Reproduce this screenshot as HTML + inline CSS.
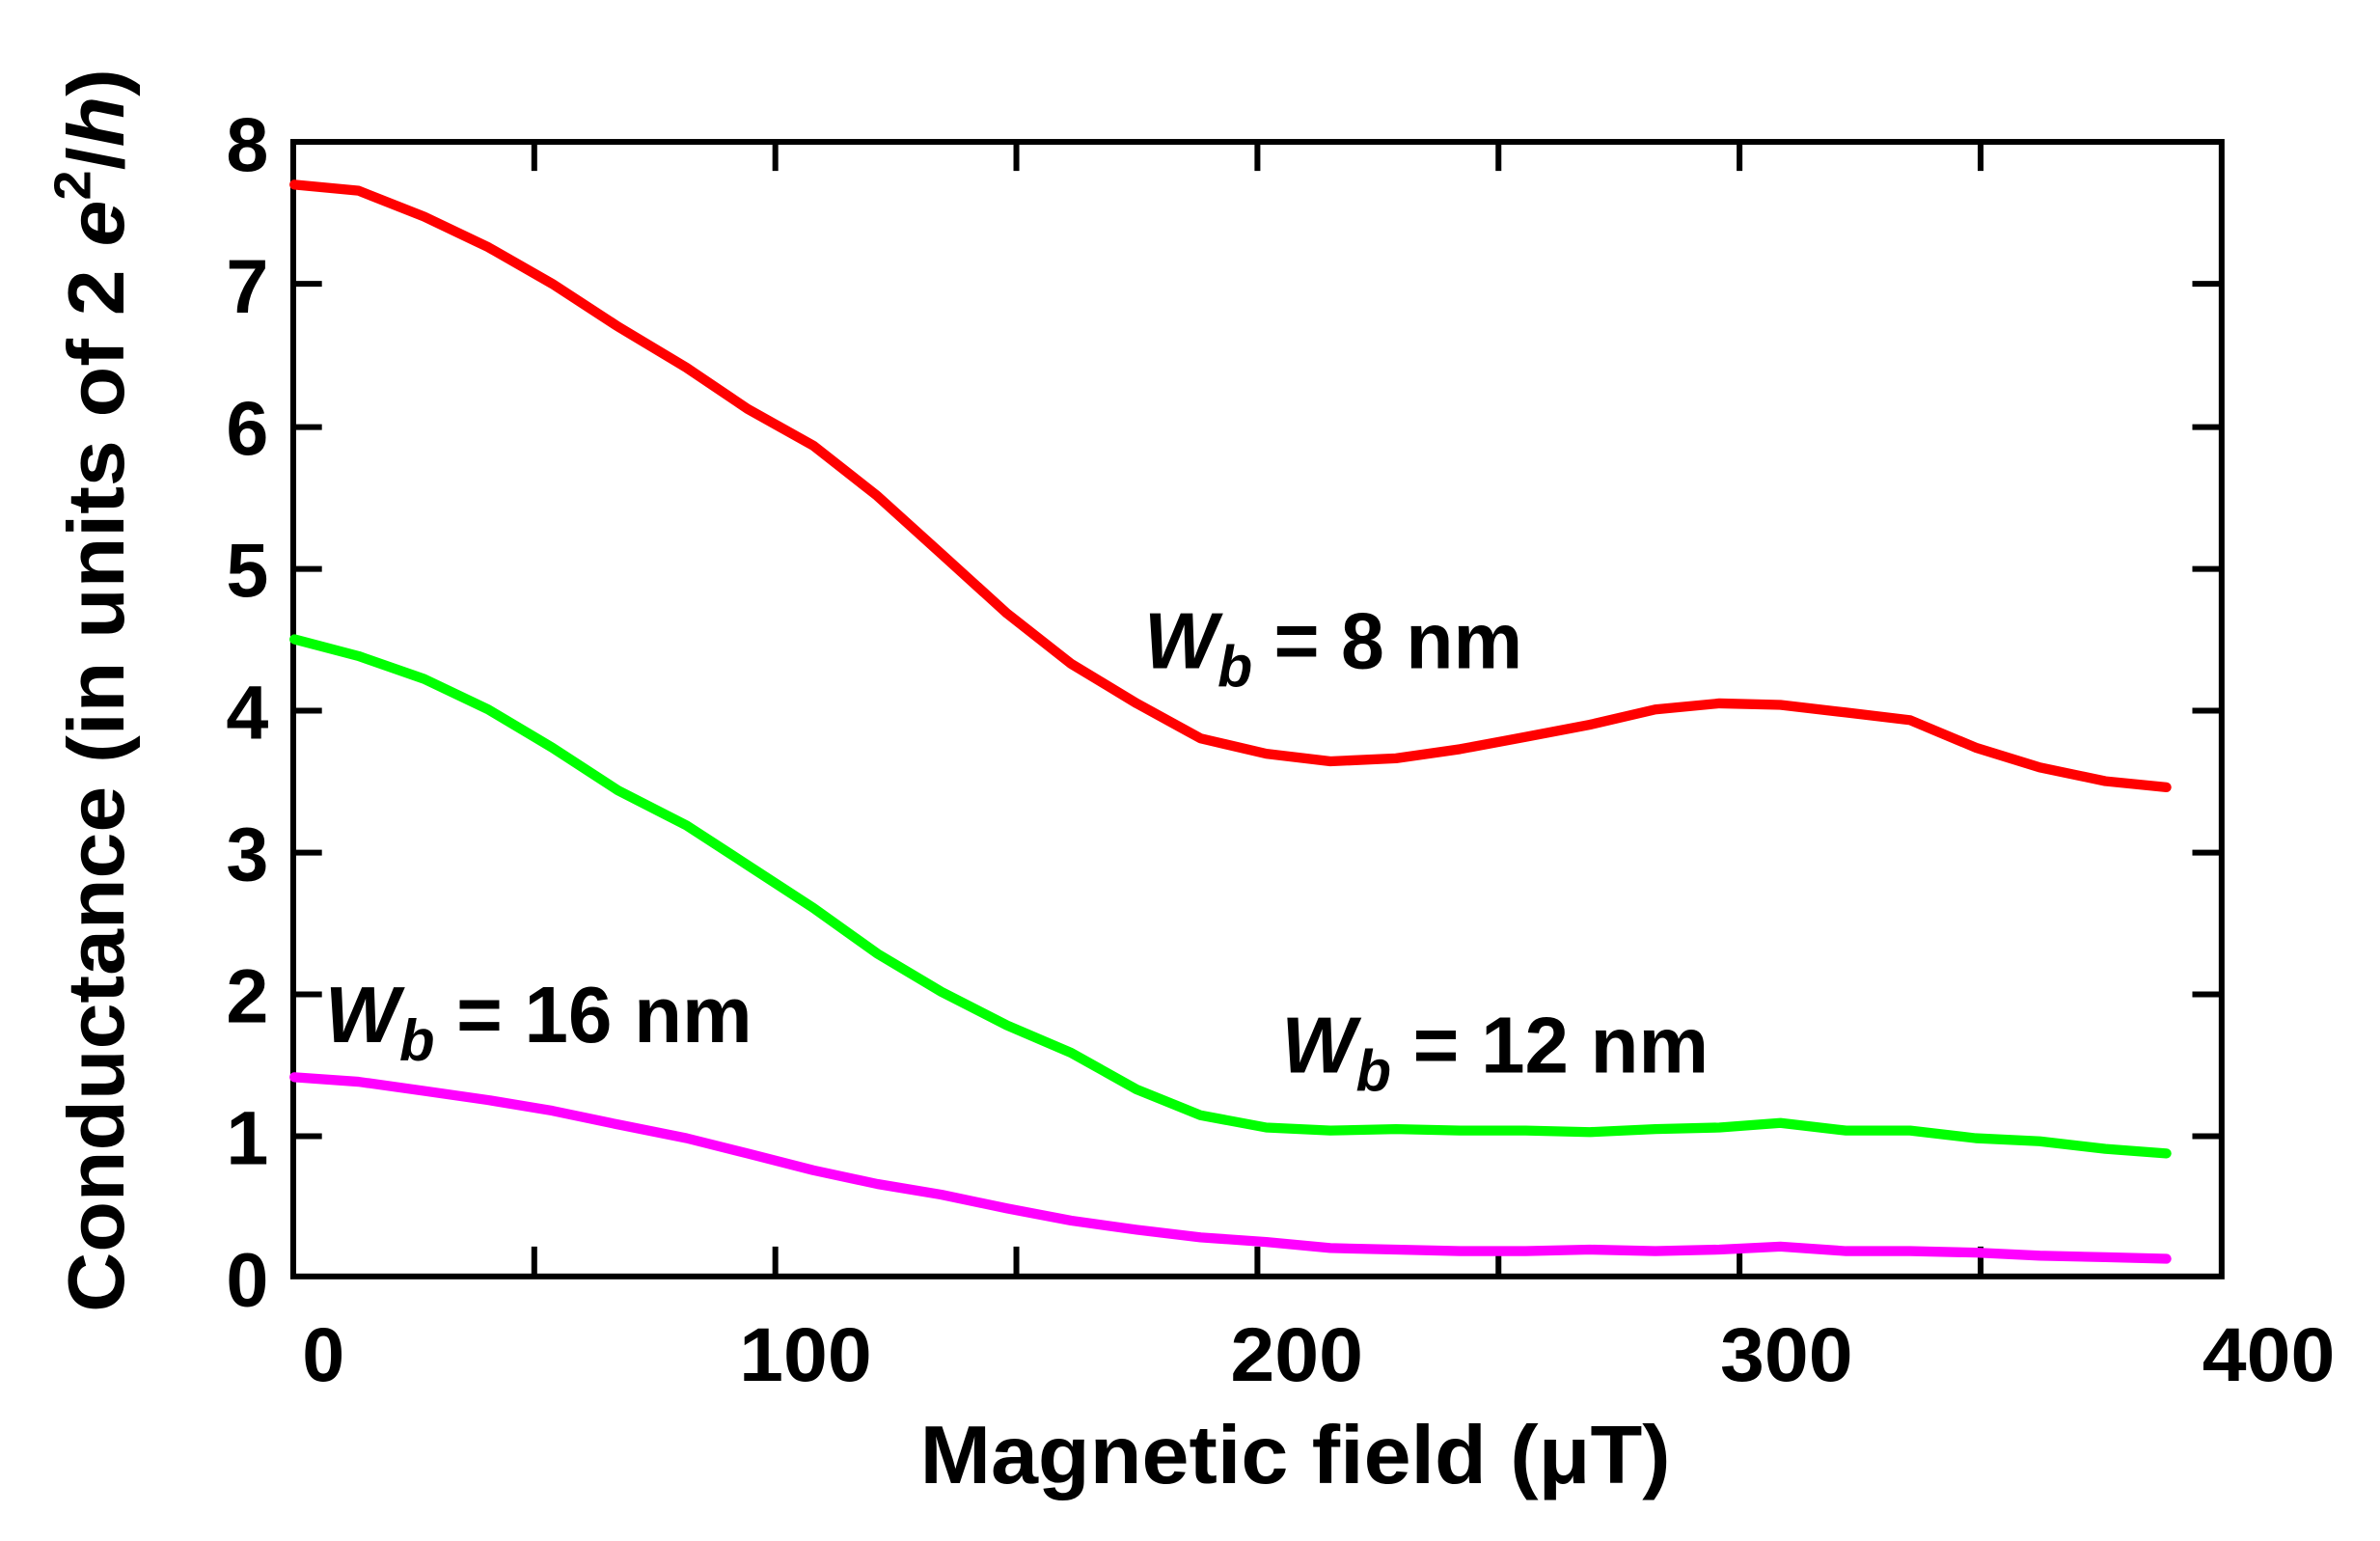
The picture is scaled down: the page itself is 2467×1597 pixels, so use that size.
<!DOCTYPE html>
<html><head><meta charset="utf-8"><style>
html,body{margin:0;padding:0;background:#fff;}
svg{display:block;}
text{font-family:"Liberation Sans",Arial,sans-serif;font-weight:bold;fill:#000;}
</style></head><body>
<svg width="2467" height="1597" viewBox="0 0 1560 1010" preserveAspectRatio="none" xmlns="http://www.w3.org/2000/svg">
<rect x="0" y="0" width="1560" height="1010" fill="#fff"/>
<g stroke="#000" stroke-width="3.8" fill="none">
<rect x="192.2" y="93" width="1264" height="743.6"/>
<path d="M192 186h19M192 279.9h19M192 372.9h19M192 465.8h19M192 558.8h19M192 651.7h19M192 744.7h19
M1456 186h-19M1456 279.9h-19M1456 372.9h-19M1456 465.8h-19M1456 558.8h-19M1456 651.7h-19M1456 744.7h-19
M350.2 836v-19M508.2 836v-19M666.2 836v-19M824.2 836v-19M982.2 836v-19M1140.2 836v-19M1298.2 836v-19
M350.2 93v19M508.2 93v19M666.2 93v19M824.2 93v19M982.2 93v19M1140.2 93v19M1298.2 93v19"/>
</g>
<g font-size="50" text-anchor="end">
<text x="176" y="112">8</text>
<text x="176" y="205">7</text>
<text x="176" y="298">6</text>
<text x="176" y="391">5</text>
<text x="176" y="484">4</text>
<text x="176" y="577">3</text>
<text x="176" y="670">2</text>
<text x="176" y="763">1</text>
<text x="176" y="856">0</text>
</g>
<g font-size="50" text-anchor="middle">
<text x="212" y="905">0</text>
<text x="528" y="905" textLength="87" lengthAdjust="spacingAndGlyphs">100</text>
<text x="850" y="905" textLength="87" lengthAdjust="spacingAndGlyphs">200</text>
<text x="1171" y="905" textLength="87" lengthAdjust="spacingAndGlyphs">300</text>
<text x="1487" y="905" textLength="87" lengthAdjust="spacingAndGlyphs">400</text>
</g>
<text x="603" y="972" font-size="54" textLength="492" lengthAdjust="spacingAndGlyphs">Magnetic field  (μT)</text>
<text transform="translate(81,860) rotate(-90)" font-size="52" textLength="815" lengthAdjust="spacingAndGlyphs">Conductance  (in units of 2 <tspan font-style="italic">e</tspan><tspan font-size="34" dy="-22">2</tspan><tspan dy="22">/</tspan><tspan font-style="italic">h</tspan>)</text>
<g font-size="52">
<text x="750" y="438" textLength="248" lengthAdjust="spacingAndGlyphs"><tspan font-style="italic">W</tspan><tspan font-style="italic" font-size="38" dy="12">b</tspan><tspan dy="-12"> = 8 nm</tspan></text>
<text x="213" y="683" textLength="280" lengthAdjust="spacingAndGlyphs"><tspan font-style="italic">W</tspan><tspan font-style="italic" font-size="38" dy="12">b</tspan><tspan dy="-12"> = 16 nm</tspan></text>
<text x="840" y="703" textLength="280" lengthAdjust="spacingAndGlyphs"><tspan font-style="italic">W</tspan><tspan font-style="italic" font-size="38" dy="12">b</tspan><tspan dy="-12"> = 12 nm</tspan></text>
</g>
<g fill="none" stroke-width="6.5" stroke-linejoin="round" stroke-linecap="round">
<polyline stroke="#ff0000" points="193,121 235,125 278,142 320,162 362,186 405,214 450,241 490,268 533,292 575,325 617,363 660,402 702,435 745,461 787,484 830,494 872,499 915,497 957,491 1000,483 1042,475 1085,465 1127,461 1167,462 1210,467 1252,472 1295,490 1337,503 1380,512 1420,516"/>
<polyline stroke="#00ff00" points="193,419 235,430 278,445 320,465 362,490 405,518 450,541 490,567 533,595 575,625 617,650 660,672 702,690 745,714 787,731 830,739 872,741 915,740 957,741 1000,741 1042,742 1085,740 1127,739 1167,736 1210,741 1252,741 1295,746 1337,748 1380,753 1420,756"/>
<polyline stroke="#ff00ff" points="193,706 235,709 278,715 320,721 362,728 405,737 450,746 490,756 533,767 575,776 617,783 660,792 702,800 745,806 787,811 830,814 872,818 915,819 957,820 1000,820 1042,819 1085,820 1127,819 1167,817 1210,820 1252,820 1295,821 1337,823 1380,824 1420,825"/>
</g>
</svg>
</body></html>
